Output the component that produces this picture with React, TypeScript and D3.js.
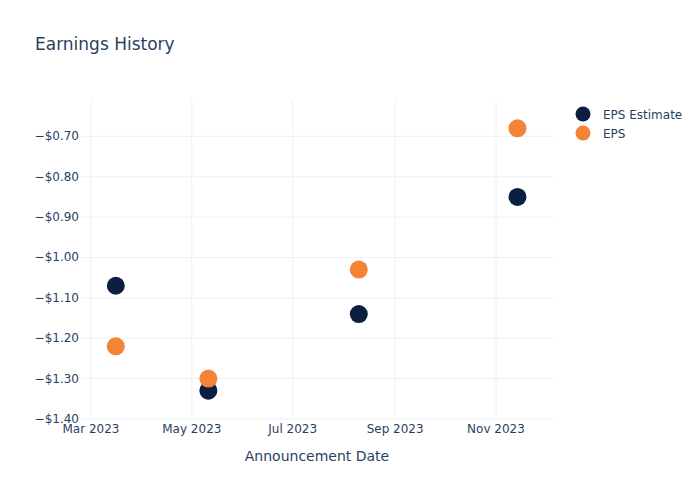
import React from "react";
import * as d3 from "d3";

const dates = ["2023-03-16", "2023-05-11", "2023-08-10", "2023-11-14"];
const epsEstimate = [-1.07, -1.33, -1.14, -0.85];
const eps = [-1.22, -1.30, -1.03, -0.68];
const yTicks = [-0.7, -0.8, -0.9, -1.0, -1.1, -1.2, -1.3, -1.4];
const seriesNames = ["EPS Estimate", "EPS"];
const seriesColors = ["#0b1f41", "#f58235"];

const W = 700, H = 500;
const left = 82, right = 553, top = 100, bottom = 419;
const font = "'DejaVu Sans', Verdana, sans-serif";
const textColor = "#2a3f5f";
const gridColor = "#ebf0f8";

export default function App() {
  const parse = d3.utcParse("%Y-%m-%d");
  const x = d3.scaleUtc()
    .domain([parse("2023-03-01")!, parse("2023-11-01")!])
    .range([91, 496]);
  const y = d3.scaleLinear().domain([-1.4, -0.61]).range([bottom, top]);
  const xTicks = d3.utcMonth.range(parse("2023-03-01")!, parse("2023-12-01")!, 2);
  const fmtX = d3.utcFormat("%b %Y");
  const fmtY = (v: number) => "\u2212$" + Math.abs(v).toFixed(2);
  const series = [epsEstimate, eps];

  return (
    <svg width={W} height={H} style={{ position: "absolute", left: 0, top: 0, fontFamily: font }}>
      <rect width={W} height={H} fill="#fff" />
      <text x={35} y={50} fontSize={17} fill={textColor}>Earnings History</text>
      {yTicks.map((t) => (
        <g key={"y" + t}>
          <line x1={left} x2={right} y1={y(t)} y2={y(t)} stroke={gridColor} strokeWidth={1} />
          <text x={79} y={y(t) + 4} fontSize={12} fill={textColor} textAnchor="end">{fmtY(t)}</text>
        </g>
      ))}
      {xTicks.map((t) => (
        <g key={"x" + t.getTime()}>
          <line x1={x(t)} x2={x(t)} y1={top} y2={bottom} stroke={gridColor} strokeWidth={1} />
          <text x={x(t)} y={433} fontSize={12} fill={textColor} textAnchor="middle">{fmtX(t)}</text>
        </g>
      ))}
      <text x={317} y={461} fontSize={14} fill={textColor} textAnchor="middle">Announcement Date</text>
      {series.map((vals, si) => (
        <g key={"s" + si}>
          {vals.map((v, i) => (
            <circle key={i} cx={x(parse(dates[i])!)} cy={y(v)} r={9} fill={seriesColors[si]} />
          ))}
        </g>
      ))}
      {seriesNames.map((n, i) => (
        <g key={n}>
          <circle cx={583} cy={114 + i * 19} r={7.5} fill={seriesColors[i]} />
          <text x={603} y={118.5 + i * 19} fontSize={12} fill={textColor}>{n}</text>
        </g>
      ))}
    </svg>
  );
}
